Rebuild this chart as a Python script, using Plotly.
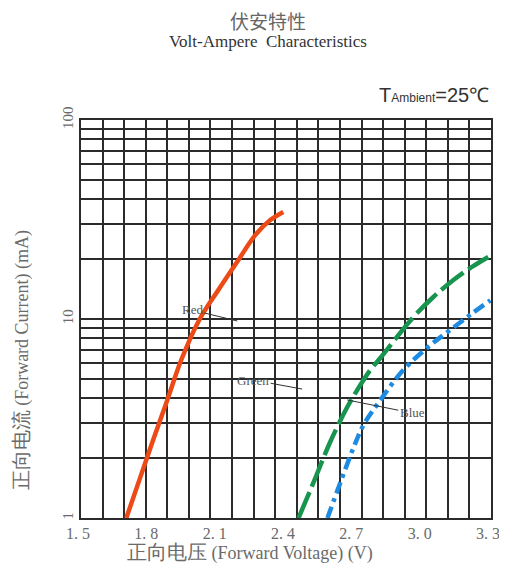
import plotly.graph_objects as go

# forward voltage (V) / forward current (mA)
red_v = [1.699, 1.756, 1.817, 1.879, 1.940, 2.019, 2.103, 2.191, 2.265, 2.331, 2.388]
red_i = [1.0, 1.55, 2.47, 3.92, 6.22, 9.89, 14.0, 19.8, 26.4, 31.4, 34.5]

green_v = [2.455, 2.525, 2.594, 2.669, 2.713, 2.770, 2.814, 2.955, 3.047, 3.135, 3.214, 3.288]
green_i = [1.0, 1.55, 2.41, 3.61, 4.40, 5.54, 6.37, 10.1, 12.9, 15.7, 18.2, 20.5]

blue_v = [2.582, 2.638, 2.696, 2.740, 2.805, 2.915, 3.035, 3.121, 3.209, 3.297]
blue_i = [1.0, 1.50, 2.25, 2.93, 3.78, 5.54, 7.40, 8.81, 10.5, 12.4]

x_ticks = [1.5, 1.8, 2.1, 2.4, 2.7, 3.0, 3.3]
x_labels = ["1. 5", "1. 8", "2. 1", "2. 4", "2. 7", "3. 0", "3. 3"]
y_grid = [m * 10 ** d for d in range(2) for m in range(1, 10)] + [100]
y_labels = {1: "1", 10: "10", 100: "100"}

serif = "Liberation Serif, DejaVu Serif, serif"
cjk = "Noto Sans CJK SC"
grey = "#6a6a6a"
grid = "#2b2b2b"

fig = go.Figure()
curves = [
    ("Red", red_v, red_i, "#EC4A16", "solid"),
    ("Green", green_v, green_i, "#17954F", "28px,6px"),
    ("Blue", blue_v, blue_i, "#1D8BE2", "12px,5px,4px,5px"),
]
for name, v, i, color, dash in curves:
    fig.add_trace(go.Scatter(
        x=v, y=i, name=name, mode="lines",
        line=dict(color=color, width=4.5, dash=dash, shape="spline", smoothing=1.0),
        showlegend=False,
    ))

fig.update_xaxes(
    range=[1.5, 3.3], automargin=False,
    tickmode="array", tickvals=x_ticks, ticktext=x_labels,
    tickfont=dict(family=serif, size=16, color=grey), ticklabelshift=-3,
    showgrid=False, zeroline=False,
    showline=True, linecolor=grid, linewidth=1.5, mirror=True,
    minor=dict(tick0=1.5, dtick=1.8 / 19, showgrid=True, gridcolor=grid, gridwidth=1.5),
)
fig.update_yaxes(
    type="log", range=[0, 2], automargin=False,
    tickmode="array", tickvals=y_grid,
    ticktext=[y_labels.get(round(g), "") for g in y_grid],
    tickangle=-90,
    tickfont=dict(family=serif, size=15, color=grey),
    showgrid=True, gridcolor=grid, gridwidth=1.5, zeroline=False,
    showline=True, linecolor=grid, linewidth=1.5, mirror=True,
)

label_font = dict(family=serif, size=13, color="#555")
leader = dict(showarrow=True, arrowhead=0, arrowwidth=1, arrowcolor="#333", standoff=0,
              xref="x", yref="y", font=label_font)
fig.add_annotation(text="Red", x=2.186, y=0.99, ax=-45, ay=-11, **leader)
fig.add_annotation(text="Green", x=2.471, y=0.648, ax=-49, ay=-9, **leader)
fig.add_annotation(text="Blue", x=2.669, y=0.593, ax=65, ay=13, **leader)

paper = dict(xref="paper", yref="paper", showarrow=False, xanchor="center", yanchor="middle")
fig.add_annotation(text="伏安特性", x=0.455, y=1.249,
                   font=dict(family=cjk, size=19, color="#666"), **paper)
fig.add_annotation(text="Volt-Ampere  Characteristics", x=0.455, y=1.197,
                   font=dict(family=serif, size=17, color="#333"), **paper)
fig.add_annotation(
    text="<span style='font-size:20px'>T</span>Ambient<span style='font-size:20px'>=25℃</span>",
    xref="paper", yref="paper", x=1.0, y=1.063, xanchor="right", yanchor="middle",
    showarrow=False, font=dict(family="Liberation Sans, Arial, sans-serif", size=12, color="#333"),
)
fig.add_annotation(
    text="<span style='font-size:20px'>正向电流</span> (Forward Current) (mA)",
    x=-0.143, y=0.397, textangle=-90,
    font=dict(family=serif, size=18, color=grey), **paper,
)
fig.add_annotation(
    text="<span style='font-size:20px'>正向电压</span> (Forward Voltage) (V)",
    x=0.413, y=-0.087,
    font=dict(family=serif, size=18, color=grey), **paper,
)

# the page body adds an 8px margin, so the figure is drawn slightly smaller
fig.update_layout(
    width=499, height=560,
    margin=dict(l=73, r=16, t=112, b=50),
    paper_bgcolor="white", plot_bgcolor="white",
)

fig.write_html("out.html")
